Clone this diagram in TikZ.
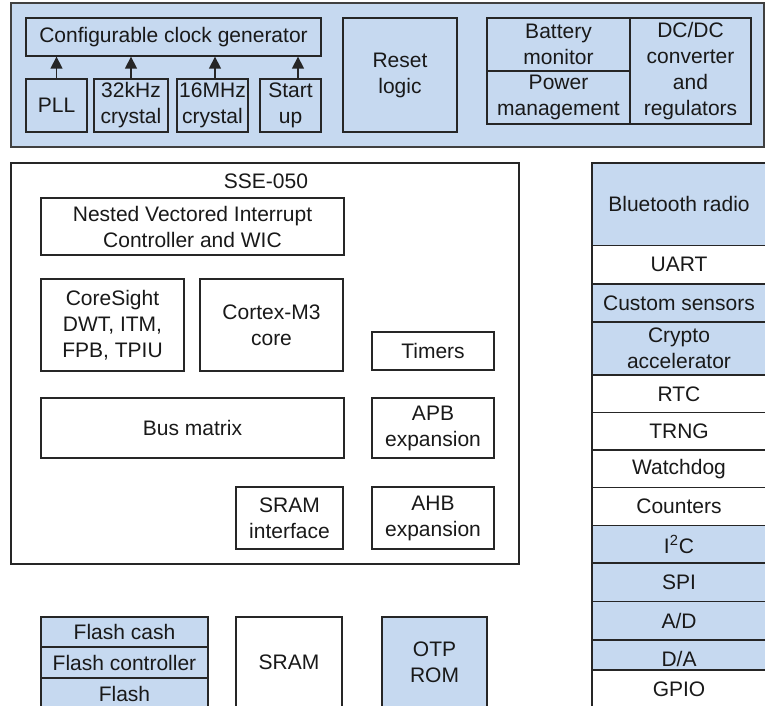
\documentclass[tikz,border=0pt]{standalone}
\usepackage{fontspec}
\setmainfont{Liberation Sans}
\usetikzlibrary{positioning, arrows.meta}

\definecolor{blkblue}{HTML}{C6D9F0}
\definecolor{blkline}{HTML}{262626}

\begin{document}
\begin{tikzpicture}[x=0.5pt, y=-0.5pt]
\tikzstyle{box}=[rectangle, draw=blkline, line width=0.65pt, inner sep=0pt, align=center, text=black!90, font=\fontsize{10.5}{13}\selectfont]
\tikzstyle{blue}=[box, fill=blkblue]
\tikzstyle{plain}=[box, fill=white]
\tikzstyle{connect}=[-{Triangle[width=6pt, length=6pt]}, line width=0.65pt, draw=blkline]
\tikzset{sz/.style 2 args={minimum width=#1*0.5pt, minimum height=#2*0.5pt}}
\useasboundingbox (0,0) rectangle (765,706);

% power and clock panel
\node[blue, draw=black!75, sz={753}{144}] (top) at (387.5,75) {};
\node[blue, sz={295}{38}] (clk) at (173.5,37) {Configurable clock generator};
\node[blue, sz={61}{53}] (pll) at (56.5,105.5) {PLL};
\node[blue, sz={74}{53}] (xlo) at (131,105.5) {32kHz\\crystal};
\node[blue, sz={71}{53}] (xhi) at (212.5,105.5) {16MHz\\crystal};
\node[blue, sz={61}{53}] (su) at (290.5,105.5) {Start\\up};
\node[blue, sz={114}{114}] (rst) at (400,75) {Reset\\logic};
\node[blue, sz={143}{53}] (bat) at (558.5,44.5) {Battery\\monitor};
\node[blue, sz={143}{53}] (pwr) at (558.5,97.5) {Power\\management};
\node[blue, sz={121}{106}] (dcdc) at (690.5,71) {DC/DC\\converter\\and\\regulators};
\draw[connect] (pll.north) -- (pll.north |- clk.south);
\draw[connect] (xlo.north) -- (xlo.north |- clk.south);
\draw[connect] ([xshift=1.25pt]xhi.north) -- ([xshift=1.25pt]xhi.north |- clk.south);
\draw[connect] ([xshift=3.75pt]su.north) -- ([xshift=3.75pt]su.north |- clk.south);

% subsystem
\node[plain, sz={508}{401}] (sse) at (265,363.5) {};
\node[box, draw=none] (ssename) at (266,181) {SSE-050};
\node[plain, sz={303}{57}] (nvic) at (192.5,226.5) {Nested Vectored Interrupt\\Controller and WIC};
\node[plain, sz={143}{92}] (cs) at (112.5,325) {CoreSight\\DWT, ITM,\\FPB, TPIU};
\node[plain, sz={143}{92}] (cpu) at (271.5,325) {Cortex-M3\\core};
\node[plain, sz={122}{38}] (tmr) at (433,351) {Timers};
\node[plain, sz={303}{60}] (bus) at (192.5,428) {Bus matrix};
\node[plain, sz={122}{60}] (apb) at (433,428) {APB\\expansion};
\node[plain, sz={107}{62}] (sif) at (289.5,518) {SRAM\\interface};
\node[plain, sz={122}{62}] (ahb) at (433,518) {AHB\\expansion};

% peripherals
\node[blue, sz={174}{82.7}] (bt) at (679,204.35) {Bluetooth radio};
\node[plain, sz={174}{38.3}] (uart) at (679,264.85) {UART};
\node[blue, sz={174}{38}] (sens) at (679,303) {Custom sensors};
\node[blue, sz={174}{53}] (cry) at (679,348.5) {Crypto\\accelerator};
\node[plain, sz={174}{37.7}] (rtc) at (679,393.85) {RTC};
\node[plain, sz={174}{37.3}] (trng) at (679,431.35) {TRNG};
\node[plain, sz={174}{37.7}] (wdog) at (679,468.85) {Watchdog};
\node[plain, sz={174}{38}] (cnt) at (679,506.7) {Counters};
\node[blue, sz={174}{37.3}] (iic) at (679,544.35) {I\textsuperscript{2}C};
\node[blue, sz={174}{38.7}] (spi) at (679,582.35) {SPI};
\node[blue, sz={174}{38.3}] (adc) at (679,620.85) {A/D};
\node[blue, sz={174}{38}] (dac) at (679,659) {D/A};
\node[plain, sz={174}{38}] (gpio) at (679,689) {GPIO};

% memories
\node[blue, sz={167}{30}] (fcash) at (124.5,632) {Flash cash};
\node[blue, sz={167}{31}] (fctl) at (124.5,662.5) {Flash controller};
\node[blue, sz={167}{32}] (flash) at (124.5,694) {Flash};
\node[plain, sz={106}{91}] (sram) at (289,662.5) {SRAM};
\node[blue, sz={105}{91}] (otp) at (434.5,662.5) {OTP\\ROM};
\end{tikzpicture}
\end{document}
